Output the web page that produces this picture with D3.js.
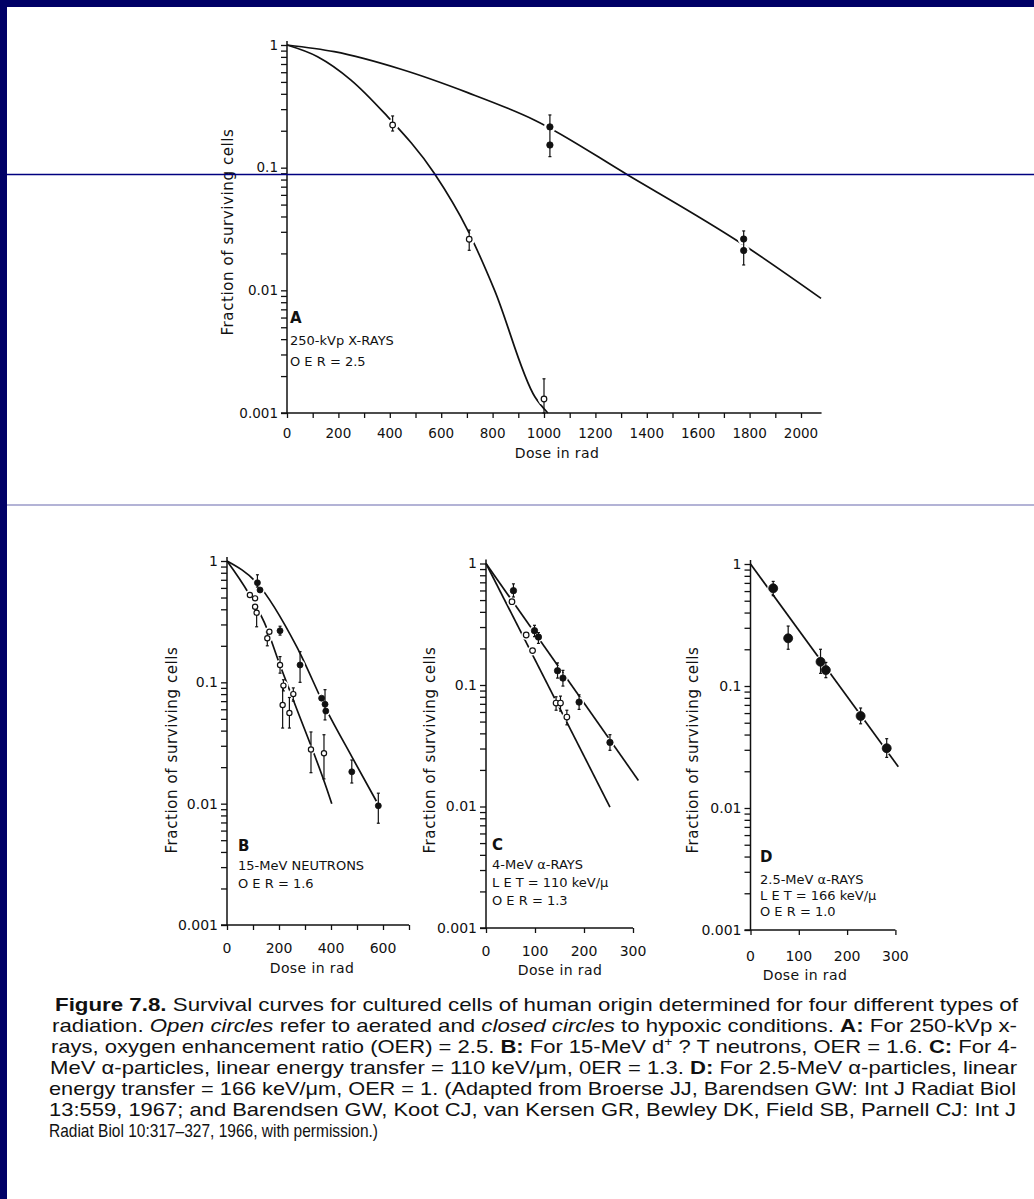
<!DOCTYPE html>
<html>
<head>
<meta charset="utf-8">
<script src="https://cdn.jsdelivr.net/npm/d3@7"></script>
<style>
  body { margin: 0; background: #fff; }
  svg { display: block; }
  text { font-family: "DejaVu Sans", sans-serif; fill: #111; }
  .caption text { font-family: "Liberation Sans", Arial, sans-serif; white-space: pre; }
</style>
</head>
<body>
<div id="chart"></div>
<script>
// ---- data (dose in rad, surviving fraction) ----

// A: 250-kVp x-rays
var aDoseLabels = [0, 200, 400, 600, 800, 1000, 1200, 1400, 1600, 1800, 2000];
var aHypoxicCurve = [[0, 1], [184, 0.882], [444, 0.634], [703, 0.409], [962, 0.245], [1326, 0.0872], [1767, 0.0242], [2078, 0.0086]];
var aAeratedCurve = [[0, 1], [119, 0.803], [249, 0.518], [379, 0.278], [573, 0.090], [703, 0.031], [807, 0.0101], [965, 0.00135], [1015, 0.001]];
// [dose, fraction, low, high]
var aHypoxicPts = [[1023, 0.215, 0.123, 0.269], [1023, 0.153, null, null], [1777, 0.0262, 0.0161, 0.0305], [1777, 0.0211, null, null]];
var aAeratedPts = [[411, 0.223, 0.199, 0.264], [709, 0.0261, 0.0212, 0.031], [1000, 0.0013, 0.001, 0.0019]];

// B: 15-MeV neutrons
var bDoseLabels = [0, 200, 400, 600];
var bHypoxicCurve = [[0, 1], [115, 0.659], [268, 0.197], [383, 0.059], [480, 0.0244], [588, 0.0093]];
var bAeratedCurve = [[0, 1], [83, 0.542], [153, 0.279], [191, 0.165], [255, 0.0715], [383, 0.0134], [403, 0.01]];
var bHypoxicPts = [[117, 0.662, 0.61, 0.77], [127, 0.577, null, null], [204, 0.266, 0.245, 0.29], [281, 0.139, 0.100, 0.179],
  [364, 0.074, null, null], [377, 0.066, 0.049, 0.087], [380, 0.058, null, null], [480, 0.0183, 0.0148, 0.0229], [582, 0.0096, 0.0069, 0.0122]];
var bAeratedPts = [[88, 0.525, null, null], [108, 0.492, null, null], [108, 0.420, null, null], [114, 0.375, 0.287, 0.42],
  [155, 0.231, 0.2, 0.26], [163, 0.261, null, null], [204, 0.139, 0.119, 0.163], [217, 0.094, 0.085, 0.105],
  [214, 0.065, 0.042, 0.092], [240, 0.056, 0.042, 0.075], [255, 0.080, 0.07, 0.09], [323, 0.028, 0.018, 0.039], [373, 0.026, 0.016, 0.037]];

// C: 4-MeV alpha rays
var cDoseLabels = [0, 100, 200, 300];
var cHypoxicCurve = [[0, 1], [311, 0.0164]];
var cAeratedCurve = [[0, 1], [253, 0.0099]];
var cHypoxicPts = [[56, 0.598, 0.53, 0.68], [99, 0.280, 0.25, 0.31], [107, 0.248, 0.22, 0.27], [146, 0.131, 0.114, 0.152],
  [157, 0.114, 0.098, 0.132], [190, 0.0723, 0.063, 0.083], [253, 0.0337, 0.029, 0.039]];
var cAeratedPts = [[53, 0.485, null, null], [82, 0.258, null, null], [95, 0.192, null, null],
  [143, 0.071, 0.062, 0.080], [152, 0.071, 0.061, 0.081], [165, 0.0545, 0.047, 0.062]];

// D: 2.5-MeV alpha rays
var dDoseLabels = [0, 100, 200, 300];
var dHypoxicCurve = [[0, 1], [306, 0.0218]];
var dHypoxicPts = [[47, 0.632, 0.55, 0.72], [78, 0.246, 0.2, 0.31], [145, 0.158, 0.127, 0.2], [156, 0.135, 0.117, 0.156],
  [228, 0.0568, 0.049, 0.066], [282, 0.0309, 0.026, 0.037]];

var survivalLabels = [1, 0.1, 0.01, 0.001];
var panelTexts = {
  A: ["A", "250-kVp X-RAYS", "O E R = 2.5"],
  B: ["B", "15-MeV NEUTRONS", "O E R = 1.6"],
  C: ["C", "4-MeV \u03b1-RAYS", "L E T = 110 keV/\u03bc", "O E R = 1.3"],
  D: ["D", "2.5-MeV \u03b1-RAYS", "L E T = 166 keV/\u03bc", "O E R = 1.0"]
};

var captionLines = [
  [["b", "Figure 7.8."], ["n", " Survival curves for cultured cells of human origin determined for four different types of"]],
  [["n", "radiation. "], ["i", "Open circles"], ["n", " refer to aerated and "], ["i", "closed circles"], ["n", " to hypoxic conditions. "], ["b", "A:"], ["n", " For 250-kVp x-"]],
  [["n", "rays, oxygen enhancement ratio (OER) = 2.5. "], ["b", "B:"], ["n", " For 15-MeV d"], ["s", "+"], ["n", " ? T neutrons, OER = 1.6. "], ["b", "C:"], ["n", " For 4-"]],
  [["n", "MeV \u03b1-particles, linear energy transfer = 110 keV/\u03bcm, 0ER = 1.3. "], ["b", "D:"], ["n", " For 2.5-MeV \u03b1-particles, linear"]],
  [["n", "energy transfer = 166 keV/\u03bcm, OER = 1. (Adapted from Broerse JJ, Barendsen GW: Int J Radiat Biol"]],
  [["n", "13:559, 1967; and Barendsen GW, Koot CJ, van Kersen GR, Bewley DK, Field SB, Parnell CJ: Int J"]],
  [["n", "Radiat Biol 10:317\u2013327, 1966, with permission.)"]]
];

// ---- layout ----
var W = 1034, H = 1199;
var svg = d3.select("#chart").append("svg").attr("width", W).attr("height", H);
svg.append("rect").attr("width", W).attr("height", H).attr("fill", "#fff");

var panels = [
  { key: "A", left: 287, pxPerRad: 0.257, xMax: 2080, tickStep: 100, labels: aDoseLabels, top: 45, bottom: 413,
    tickFont: 13.5, labelY: 433, titleX: 557, titleY: 453, ylabX: 228, ylabY: 232, textX: 290, textY: [318, 340, 361], r: 3.2, halo: 6,
    series: [{ curve: aHypoxicCurve, pts: aHypoxicPts, open: false }, { curve: aAeratedCurve, pts: aAeratedPts, open: true }] },
  { key: "B", left: 227, pxPerRad: 0.26, xMax: 700, tickStep: 100, labels: bDoseLabels, top: 561, bottom: 925,
    tickFont: 14, labelY: 948, titleX: 312, titleY: 968, ylabX: 172, ylabY: 750, textX: 238, textY: [846, 865, 883], r: 3, halo: 5,
    series: [{ curve: bHypoxicCurve, pts: bHypoxicPts, open: false }, { curve: bAeratedCurve, pts: bAeratedPts, open: true }] },
  { key: "C", left: 486, pxPerRad: 0.49, xMax: 300, tickStep: 100, labels: cDoseLabels, top: 563.5, bottom: 928,
    tickFont: 14, labelY: 951, titleX: 560, titleY: 970, ylabX: 430, ylabY: 750, textX: 492, textY: [845, 864, 882, 900], r: 3.2, halo: 5,
    series: [{ curve: cHypoxicCurve, pts: cHypoxicPts, open: false }, { curve: cAeratedCurve, pts: cAeratedPts, open: true }] },
  { key: "D", left: 750.5, pxPerRad: 0.483, xMax: 300, tickStep: 100, labels: dDoseLabels, top: 564, bottom: 930,
    tickFont: 14, labelY: 956, titleX: 805, titleY: 975, ylabX: 693, ylabY: 750, textX: 760, textY: [857, 879, 895, 911], r: 4.5, halo: 6,
    series: [{ curve: dHypoxicCurve, pts: dHypoxicPts, open: false }] }
];

// minor log ticks 2..9 in each decade
var minorTicks = [];
[0.001, 0.01, 0.1].forEach(function (dec) {
  for (var k = 2; k <= 9; k++) minorTicks.push(dec * k);
});

panels.forEach(function (p) {
  var g = svg.append("g").attr("class", "panel-" + p.key);

  var x = d3.scaleLinear().domain([0, p.xMax]).range([p.left, p.left + p.pxPerRad * p.xMax]);
  var y = d3.scaleLog().domain([0.001, 1]).range([p.bottom, p.top]);

  // y axis
  var yAxis = g.append("g")
    .attr("transform", "translate(" + p.left + ",0)")
    .call(d3.axisLeft(y)
      .tickValues(survivalLabels.concat(minorTicks))
      .tickSize(6)
      .tickPadding(3)
      .tickFormat(function (d) { return survivalLabels.indexOf(d) >= 0 ? String(d) : ""; }));
  yAxis.select(".domain").remove();
  yAxis.selectAll(".tick line").attr("stroke", "#111").attr("stroke-width", 1.3);
  yAxis.selectAll(".tick text").style("font-size", p.tickFont + "px").attr("fill", "#111");

  // x axis
  var xTickVals = d3.range(0, p.xMax + 1, p.tickStep);
  var xAxis = g.append("g")
    .attr("transform", "translate(0," + p.bottom + ")")
    .call(d3.axisBottom(x)
      .tickValues(xTickVals)
      .tickSize(5)
      .tickPadding(0)
      .tickFormat(""));
  xAxis.select(".domain").remove();
  xAxis.selectAll(".tick line").attr("stroke", "#111").attr("stroke-width", 1.3);

  g.selectAll(".xlab")
    .data(p.labels)
    .enter().append("text")
    .attr("class", "xlab")
    .attr("x", function (d) { return x(d); })
    .attr("y", p.labelY)
    .attr("dy", "0.35em")
    .attr("text-anchor", "middle")
    .style("font-size", p.tickFont + "px")
    .text(function (d) { return d; });

  // axis lines
  g.append("line")
    .attr("x1", p.left).attr("x2", p.left)
    .attr("y1", p.top - 4).attr("y2", p.bottom)
    .attr("stroke", "#111").attr("stroke-width", 1.5);
  g.append("line")
    .attr("x1", p.left - 6).attr("x2", x(p.xMax))
    .attr("y1", p.bottom).attr("y2", p.bottom)
    .attr("stroke", "#111").attr("stroke-width", 1.5);

  // axis titles
  g.append("text")
    .attr("transform", "translate(" + p.ylabX + "," + p.ylabY + ") rotate(-90)")
    .attr("text-anchor", "middle")
    .attr("dy", "0.35em")
    .style("font-size", "15px")
    .style("letter-spacing", "0.6px")
    .text("Fraction of surviving cells");
  g.append("text")
    .attr("x", p.titleX).attr("y", p.titleY)
    .attr("text-anchor", "middle")
    .attr("dy", "0.35em")
    .style("font-size", "14px")
    .style("letter-spacing", "0.4px")
    .text("Dose in rad");

  // panel legend text
  panelTexts[p.key].forEach(function (t, i) {
    g.append("text")
      .attr("x", p.textX).attr("y", p.textY[i])
      .attr("dy", "0.35em")
      .style("font-size", i === 0 ? "15px" : "13px")
      .style("font-weight", i === 0 ? "bold" : "normal")
      .text(t);
  });

  // curves
  var line = d3.line()
    .x(function (d) { return x(d[0]); })
    .y(function (d) { return y(d[1]); })
    .curve(d3.curveMonotoneX);

  p.series.forEach(function (s) {
    g.append("path")
      .datum(s.curve)
      .attr("fill", "none")
      .attr("stroke", "#111")
      .attr("stroke-width", 1.7)
      .attr("d", line);
  });

  // white halos break the curves around the data points
  p.series.forEach(function (s) {
    g.selectAll(null)
      .data(s.pts)
      .enter().append("circle")
      .attr("cx", function (d) { return x(d[0]); })
      .attr("cy", function (d) { return y(d[1]); })
      .attr("r", p.halo)
      .attr("fill", "#fff");
  });

  // error bars
  p.series.forEach(function (s) {
    var bars = s.pts.filter(function (d) { return d[2] != null; });
    g.selectAll(null)
      .data(bars)
      .enter().append("line")
      .attr("x1", function (d) { return x(d[0]); })
      .attr("x2", function (d) { return x(d[0]); })
      .attr("y1", function (d) { return y(d[3]); })
      .attr("y2", function (d) { return y(d[2]); })
      .attr("stroke", "#111").attr("stroke-width", 1.2);
    [2, 3].forEach(function (k) {
      g.selectAll(null)
        .data(bars)
        .enter().append("line")
        .attr("x1", function (d) { return x(d[0]) - 1.5; })
        .attr("x2", function (d) { return x(d[0]) + 1.5; })
        .attr("y1", function (d) { return y(d[k]); })
        .attr("y2", function (d) { return y(d[k]); })
        .attr("stroke", "#111").attr("stroke-width", 1.2);
    });
  });

  // markers: closed = hypoxic, open = aerated
  p.series.forEach(function (s) {
    g.selectAll(null)
      .data(s.pts)
      .enter().append("circle")
      .attr("cx", function (d) { return x(d[0]); })
      .attr("cy", function (d) { return y(d[1]); })
      .attr("r", s.open ? p.r - 0.4 : p.r)
      .attr("fill", s.open ? "#fff" : "#111")
      .attr("stroke", "#111")
      .attr("stroke-width", s.open ? 1.2 : 0.8);
  });
});

// ---- caption (each line squeezed/stretched to its width in the scan) ----
var cap = svg.append("g").attr("class", "caption");
var capLeft = [55, 52, 51, 50, 49, 49, 49];
var capRight = [1018, 1017, 1017, 1017, 1016, 1016, 378];
var capBase = [1011, 1032, 1053, 1074, 1095, 1116, 1137];
captionLines.forEach(function (parts, i) {
  var t = cap.append("text")
    .attr("x", capLeft[i]).attr("y", capBase[i])
    .attr("textLength", capRight[i] - capLeft[i])
    .attr("lengthAdjust", "spacingAndGlyphs")
    .style("font-size", "19px");
  parts.forEach(function (pt) {
    var ts = t.append("tspan").text(pt[1]);
    if (pt[0] === "b") ts.style("font-weight", "bold");
    if (pt[0] === "i") ts.style("font-style", "italic");
    if (pt[0] === "s") ts.attr("baseline-shift", "super").style("font-size", "12px");
  });
});

// ---- slide frame and rules ----
svg.append("line")
  .attr("x1", 7).attr("x2", W).attr("y1", 174.5).attr("y2", 174.5)
  .attr("stroke", "#000080").attr("stroke-width", 1.5);
svg.append("line")
  .attr("x1", 7).attr("x2", W).attr("y1", 505).attr("y2", 505)
  .attr("stroke", "#9a9ac8").attr("stroke-width", 1.5);
svg.append("rect").attr("x", 0).attr("y", 0).attr("width", W).attr("height", 7).attr("fill", "#000066");
svg.append("rect").attr("x", 0).attr("y", 0).attr("width", 7).attr("height", H).attr("fill", "#000066");
</script>
</body>
</html>
